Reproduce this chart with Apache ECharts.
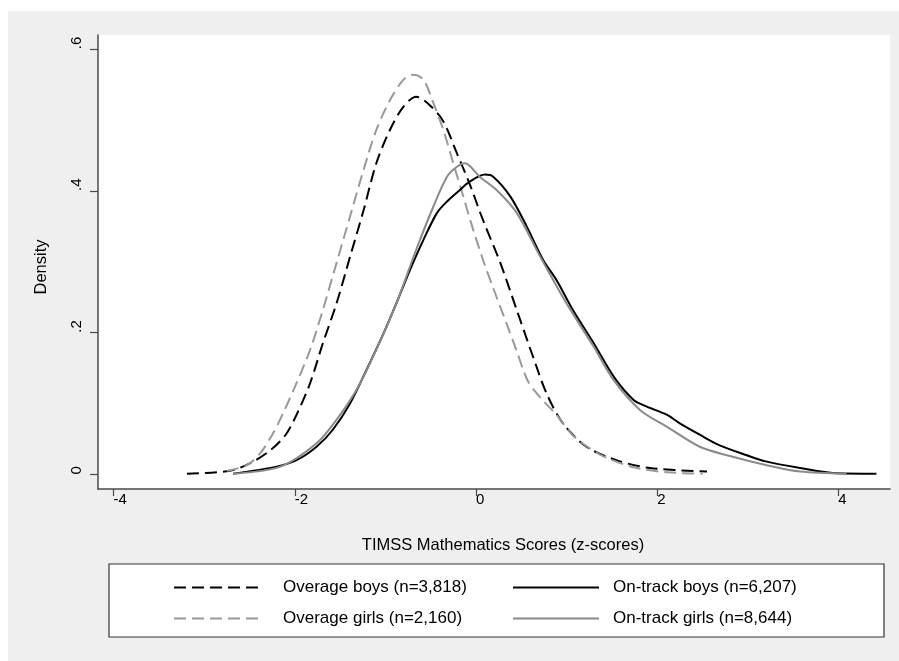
<!DOCTYPE html>
<html>
<head>
<meta charset="utf-8">
<script src="https://cdn.jsdelivr.net/npm/echarts@6/dist/echarts.min.js"></script>
<style>
  html, body { margin: 0; padding: 0; background: #fff; overflow: hidden; }
  #chart { position: absolute; left: 8px; top: 11px; width: 891px; height: 650px; }
</style>
</head>
<body>
<div id="chart"></div>
<script>
// kernel density curves, [z-score, density]
const overageBoys = [
  [-3.19, 0.001], [-2.72, 0.005], [-2.49, 0.016], [-2.27, 0.034], [-2.10, 0.056],
  [-1.97, 0.087], [-1.83, 0.129], [-1.69, 0.185], [-1.54, 0.241], [-1.39, 0.307],
  [-1.24, 0.373], [-1.10, 0.439], [-0.95, 0.486], [-0.80, 0.519], [-0.66, 0.533],
  [-0.51, 0.521], [-0.36, 0.498], [-0.21, 0.453], [-0.07, 0.410], [0.08, 0.358],
  [0.27, 0.298], [0.45, 0.232], [0.63, 0.166], [0.78, 0.114], [0.96, 0.072],
  [1.22, 0.039], [1.55, 0.020], [1.92, 0.009], [2.55, 0.004]
]
const overageGirls = [
  [-2.75, 0.005], [-2.53, 0.013], [-2.38, 0.030], [-2.24, 0.058], [-2.13, 0.086],
  [-1.98, 0.129], [-1.83, 0.176], [-1.69, 0.232], [-1.54, 0.298], [-1.39, 0.364],
  [-1.24, 0.430], [-1.10, 0.486], [-0.95, 0.528], [-0.80, 0.557], [-0.69, 0.564],
  [-0.58, 0.557], [-0.47, 0.524], [-0.36, 0.486], [-0.25, 0.439], [-0.14, 0.392],
  [-0.03, 0.345], [0.08, 0.302], [0.19, 0.263], [0.34, 0.212], [0.45, 0.174],
  [0.52, 0.148], [0.58, 0.130], [0.66, 0.116], [0.74, 0.104], [0.89, 0.084],
  [1.07, 0.055], [1.37, 0.028], [1.74, 0.010], [2.11, 0.003], [2.50, 0.001]
]
const onTrackBoys = [
  [-2.68, 0.001], [-2.20, 0.011], [-1.98, 0.020], [-1.76, 0.039], [-1.58, 0.063],
  [-1.39, 0.100], [-1.21, 0.147], [-1.02, 0.199], [-0.88, 0.241], [-0.73, 0.288],
  [-0.58, 0.331], [-0.43, 0.369], [-0.32, 0.385], [-0.18, 0.401], [-0.07, 0.413],
  [0.10, 0.423], [0.19, 0.420], [0.38, 0.392], [0.56, 0.350], [0.74, 0.303],
  [0.89, 0.274], [1.07, 0.232], [1.30, 0.185], [1.52, 0.138], [1.74, 0.105],
  [1.88, 0.096], [2.11, 0.084], [2.25, 0.072], [2.47, 0.056], [2.69, 0.041],
  [2.99, 0.027], [3.21, 0.018], [3.58, 0.009], [3.94, 0.002], [4.42, 0.001]
]
const onTrackGirls = [
  [-2.68, 0.001], [-2.16, 0.011], [-1.76, 0.044], [-1.54, 0.077], [-1.32, 0.119],
  [-1.10, 0.176], [-0.88, 0.241], [-0.66, 0.317], [-0.47, 0.378], [-0.32, 0.420],
  [-0.21, 0.434], [-0.12, 0.439], [0.04, 0.420], [0.23, 0.401], [0.45, 0.369],
  [0.71, 0.307], [1.00, 0.241], [1.30, 0.180], [1.52, 0.133], [1.81, 0.091],
  [2.11, 0.067], [2.47, 0.039], [2.77, 0.027], [3.21, 0.013], [3.58, 0.004],
  [4.09, 0.001]
]

const seriesNames = [
  'Overage boys (n=3,818)',
  'Overage girls (n=2,160)',
  'On-track boys (n=6,207)',
  'On-track girls (n=8,644)'
]
const xTicks = [-4, -2, 0, 2, 4]
const yTicks = [0, 0.2, 0.4, 0.6]

const font = '"Liberation Sans", Arial, Helvetica, sans-serif'
const axisColor = '#4a4a4a'

const chart = echarts.init(document.getElementById('chart'))

// one line series
const curve = function (name, data, color, dashed) {
  return {
    name,
    type: 'line',
    data,
    symbol: 'none',
    smooth: 0.3,
    lineStyle: {
      color,
      width: 2,
      type: dashed ? [12, 6] : 'solid'
    },
    itemStyle: { color },
    emphasis: { disabled: true }
  }
}

// legend column (no symbol dot, only the line sample)
const legendCol = function (left, pad, names) {
  return {
    orient: 'vertical',
    left, top: 563,
    itemWidth: 86, itemHeight: 20, itemGap: 14,
    selectedMode: false,
    itemStyle: { opacity: 0 },
    textStyle: { fontFamily: font, fontSize: 17, color: '#000', padding: [0, 0, 0, pad] },
    data: names
  }
}

const option = {
  animation: false,
  backgroundColor: '#efefef',
  grid: {
    left: 90, right: 9, top: 24, bottom: 172,
    show: true, backgroundColor: '#fff', borderWidth: 0
  },
  graphic: [{
    type: 'rect',
    z: 1,
    shape: { x: 101, y: 553, width: 775, height: 73 },
    style: { fill: '#fff', stroke: '#333', lineWidth: 1.2 }
  }],
  legend: [
    legendCol(160, 18, [seriesNames[0], seriesNames[1]]),
    legendCol(499, 9, [seriesNames[2], seriesNames[3]])
  ],
  xAxis: {
    type: 'value',
    min: -4.172, max: 4.57,
    name: 'TIMSS Mathematics Scores (z-scores)',
    nameLocation: 'middle',
    nameGap: 48,
    nameTextStyle: { fontFamily: font, fontSize: 16.5, color: '#000', padding: [0, 0, 0, 18] },
    axisLine: { onZero: false, lineStyle: { color: axisColor, width: 1.5 } },
    axisTick: { length: 7, customValues: xTicks, lineStyle: { color: axisColor, width: 1.2 } },
    axisLabel: {
      customValues: xTicks,
      align: 'left',
      margin: 3,
      fontFamily: font, fontSize: 15, color: '#000',
      formatter: v => String(v)
    },
    splitLine: { show: false }
  },
  yAxis: {
    type: 'value',
    min: -0.0206, max: 0.62,
    name: 'Density',
    nameLocation: 'middle',
    nameGap: 48,
    nameTextStyle: { fontFamily: font, fontSize: 16.5, color: '#000', padding: [0, 10, 0, 0] },
    axisLine: { show: true, onZero: false, lineStyle: { color: axisColor, width: 1.5 } },
    axisTick: { show: true, length: 8, customValues: yTicks, lineStyle: { color: axisColor, width: 1.2 } },
    axisLabel: {
      customValues: yTicks,
      rotate: 90,
      align: 'left',
      verticalAlign: 'middle',
      margin: 21,
      fontFamily: font, fontSize: 15, color: '#000',
      formatter: v => (v === 0 ? '0' : String(v).replace(/^0/, ''))
    },
    splitLine: { show: false }
  },
  series: [
    curve(seriesNames[0], overageBoys, '#000', true),
    curve(seriesNames[1], overageGirls, '#999', true),
    curve(seriesNames[2], onTrackBoys, '#000', false),
    curve(seriesNames[3], onTrackGirls, '#8a8a8a', false)
  ]
}

chart.setOption(option)
</script>
</body>
</html>
